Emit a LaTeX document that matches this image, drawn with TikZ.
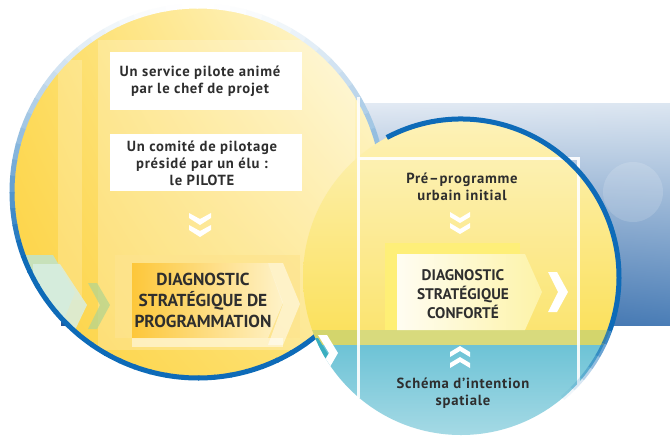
\documentclass[tikz,border=0pt]{standalone}
\usepackage{fontspec}
\usetikzlibrary{shadings}
\setmainfont{PT Sans}
\newfontfamily\boxfont[LetterSpace=5]{PT Sans}
\definecolor{bordblue}{HTML}{0E6BB8}
\definecolor{txtgray}{HTML}{2E2E2E}
\definecolor{bgtl}{HTML}{E9EEF6}
\definecolor{bgtr}{HTML}{DCE6F1}
\definecolor{bgbl}{HTML}{24579A}
\definecolor{bgbr}{HTML}{4A7DB6}
\definecolor{sunul}{HTML}{FDDC5E}
\definecolor{sunur}{HTML}{FFFBE6}
\definecolor{sunll}{HTML}{FDD140}
\definecolor{sunlr}{HTML}{FDE47A}
\definecolor{diagleft}{HTML}{FDC73A}
\definecolor{diagright}{HTML}{FEF2C8}
\definecolor{diagback}{HTML}{FEE48E}
\definecolor{mint}{HTML}{C2E3C6}
\definecolor{mintlight}{HTML}{D8EEE2}
\definecolor{leaf}{HTML}{B5D58F}
\definecolor{rtop}{HTML}{FDF2BA}
\definecolor{rbottom}{HTML}{FBE15E}
\definecolor{rband}{HTML}{D3D56C}
\definecolor{seatop}{HTML}{6DC3D6}
\definecolor{seabottom}{HTML}{A6DAE5}
\definecolor{teal}{HTML}{3AAFC0}
\definecolor{lemon}{HTML}{FFF175}
\definecolor{cream}{HTML}{FFFDF2}
\definecolor{creamright}{HTML}{FDF3A8}

\begin{document}
\begin{tikzpicture}[x=0.75pt,y=0.75pt]
\tikzstyle{every node}+=[inner sep=0pt, text=txtgray]
\tikzstyle{boxtext}=[font=\boxfont\bfseries\fontsize{11}{12.75}\selectfont, align=center]
\tikzstyle{diagtext}=[font=\bfseries\fontsize{13}{15.75}\selectfont, align=center]
\tikzstyle{chevron}=[fill=white]
\useasboundingbox (0,0) rectangle (670,-440);
\fill [white] (0,0) rectangle (670,-440);
\shade [upper left=bgtl, upper right=bgtr, lower left=bgbl, lower right=bgbr] (61,-103) rectangle (670,-325);
\fill [white, opacity=0.15] (633,-192) circle (30);
\begin{scope}
\clip (198,-192) circle (186);
\shade [upper left=sunul, upper right=sunur, lower left=sunll, lower right=sunlr] (12,-6) rectangle (384,-378);
\fill [white, opacity=0.2] (58,-60) rectangle (82,-300);
\fill [white, opacity=0.22] (98,-40) rectangle (355,-350);
\fill [white] (110,-52) rectangle (302,-110);
\fill [white] (110,-134) rectangle (302,-191);
\fill [mint, opacity=0.9] (10,-255) -- (53,-255) -- (75,-292) -- (60,-330) -- (10,-330) -- cycle;
\fill [mintlight, opacity=0.85] (33,-264) -- (60,-264) -- (87,-305) -- (75,-330) -- (33,-330) -- cycle;
\fill [leaf, opacity=0.75] (88,-283) -- (97,-283) -- (110,-305) -- (97,-329) -- (88,-329) -- (100,-305) -- cycle;
\fill [diagback, opacity=0.7] (115,-255) rectangle (300,-338);
\shade [left color=diagleft, right color=diagright] (132,-263) -- (268,-263) -- (283,-303) -- (268,-338) -- (132,-338) -- cycle;
\fill [white, opacity=0.5] (132,-338) rectangle (283,-347);
\fill [white, opacity=0.5] (268,-263) -- (283,-263) -- (300,-304) -- (283,-345) -- (268,-345) -- (283,-304) -- cycle;
\foreach \y in {213,225}
  \fill [chevron] (189,-\y) -- (200,-\y-6) -- (211,-\y) -- (211,-\y-5) -- (200,-\y-12) -- (189,-\y-5) -- cycle;
\end{scope}
\foreach \a in {-90,-85,...,265}{
  \pgfmathsetmacro\p{min(100,((\a+2.5-90)/10)^2/1.2)}
  \draw [line width=3.75pt, bordblue!\p!white] ([shift={(\a:186)}]198,-192) arc (\a:\a+5.4:186);
}
\node [boxtext] (service) at (200,-81) {Un service pilote animé\\par le chef de projet};
\node [boxtext] (comite) at (202,-163) {Un comité de pilotage\\présidé par un élu :\\le PILOTE};
\node [diagtext] (diagprog) at (203,-300) {DIAGNOSTIC\\STRATÉGIQUE DE\\PROGRAMMATION};
\begin{scope}
\clip (461,-277) circle (158);
\shade [top color=rtop, bottom color=rbottom] (300,-115) rectangle (622,-330);
\fill [rband] (300,-330) rectangle (622,-345);
\shade [top color=seatop, bottom color=seabottom] (300,-345) rectangle (622,-437);
\fill [white, opacity=0.12] (358,-158) rectangle (578,-345);
\fill [lemon, opacity=0.85] (385,-243) rectangle (520,-330);
\shade [left color=cream, right color=creamright] (397,-254) -- (525,-254) -- (542,-292) -- (525,-330) -- (397,-330) -- cycle;
\fill [teal] (303,-338) -- (318,-338) -- (328,-354) -- (318,-370) -- (303,-370) -- cycle;
\fill [chevron] (318,-335) -- (327,-335) -- (338,-353) -- (327,-372) -- (318,-372) -- (329,-353) -- cycle;
\fill [chevron] (548,-272) -- (557,-272) -- (568,-292) -- (557,-312) -- (548,-312) -- (558,-292) -- cycle;
\foreach \y in {212,223}
  \fill [chevron] (450,-\y) -- (460,-\y-6) -- (470,-\y) -- (470,-\y-5) -- (460,-\y-11) -- (450,-\y-5) -- cycle;
\foreach \y in {368,357}
  \fill [chevron] (450,-\y) -- (460,-\y+6) -- (470,-\y) -- (470,-\y+5) -- (460,-\y+11) -- (450,-\y+5) -- cycle;
\end{scope}
\draw [white, line width=2.25pt, opacity=0.9] (358,-97) -- (358,-398);
\draw [white, line width=2.25pt, opacity=0.9] (358,-158) -- (578,-158) -- (578,-385);
\draw [line width=3.75pt, bordblue] ([shift={(118:158)}]461,-277) arc (118:-20:158);
\foreach \a/\o in {-20/0.8,-25/0.62,-30/0.45,-35/0.3,-40/0.16,-45/0.06}
  \draw [line width=3.75pt, bordblue, opacity=\o] ([shift={(\a:158)}]461,-277) arc (\a:\a-5:158);
\node [boxtext] (preprog) at (462,-187) {Pré–programme\\urbain initial};
\node [diagtext, font=\bfseries\fontsize{11.5}{14.25}\selectfont] (diagconf) at (463,-294) {DIAGNOSTIC\\STRATÉGIQUE\\CONFORTÉ};
\node [boxtext] (schema) at (463,-393) {Schéma d’intention\\spatiale};
\end{tikzpicture}
\end{document}
